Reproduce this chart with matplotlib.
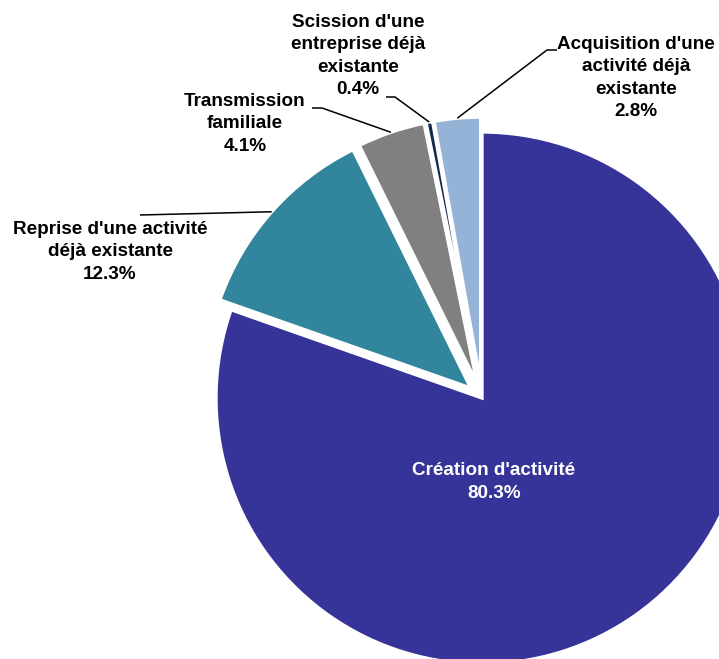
import numpy as np
import matplotlib
matplotlib.use("Agg")
import matplotlib.pyplot as plt

# Share of business creations by type (%)
categories = [
    "Création d'activité",
    "Reprise d'une activité\ndéjà existante",
    "Transmission\nfamiliale",
    "Scission d'une\nentreprise déjà\nexistante",
    "Acquisition d'une\nactivité déjà\nexistante",
]
values = [80.3, 12.3, 4.1, 0.4, 2.8]
colors = ["#363399", "#31859C", "#808080", "#13294B", "#95B3D7"]
explode = [0.0, 0.056, 0.056, 0.056, 0.056]

plt.rcParams["font.family"] = ["Liberation Sans", "DejaVu Sans"]

W, H, DPI = 719, 659, 100
fig = plt.figure(figsize=(W / DPI, H / DPI), dpi=DPI)
ax = fig.add_axes([0, 0, 1, 1])

# pie centre and radius in pixels; the pie runs past the right and bottom edges
CX, CY, R = 482.0, 398.0, 266.0


def px(x, y):
    return ((x - CX) / R, (CY - y) / R)


wedges, _ = ax.pie(
    values,
    colors=colors,
    explode=explode,
    startangle=90,
    counterclock=False,
    radius=1.0,
    wedgeprops=dict(edgecolor="white", linewidth=2.4, joinstyle="miter"),
)

ax.set_aspect("auto")
x0, y1 = px(0, 0)
x1, y0 = px(W, H)
ax.set_xlim(x0, x1)
ax.set_ylim(y0, y1)
ax.axis("off")

label_font = dict(fontsize=13.6, fontweight="bold", ha="center", va="center",
                  linespacing=1.42)

# main slice: label inside in white
ax.text(*px(494, 482), f"{categories[0]}\n{values[0]:.1f}%", color="white",
        **label_font)

# outer labels: (text centre, leader elbow points from the label side)
outer = {
    1: ((110, 252), [(140, 215)]),
    2: ((245, 124), [(312, 108), (322, 108)]),
    3: ((358, 56), [(386, 97), (395, 97)]),
    4: ((636, 78), [(557, 50), (547, 50)]),
}

for i, (tpos, elbow) in outer.items():
    ax.text(*px(*tpos), f"{categories[i]}\n{values[i]:.1f}%", color="black",
            **label_font)
    w = wedges[i]
    mid = np.deg2rad((w.theta1 + w.theta2) / 2)
    cx, cy = w.center
    ex, ey = cx + w.r * np.cos(mid), cy + w.r * np.sin(mid)
    pts = [px(*p) for p in elbow] + [(ex, ey)]
    ax.plot([p[0] for p in pts], [p[1] for p in pts], color="black",
            linewidth=1.1, solid_capstyle="butt", zorder=5)

fig.savefig("out.png", dpi=DPI, facecolor="white")
